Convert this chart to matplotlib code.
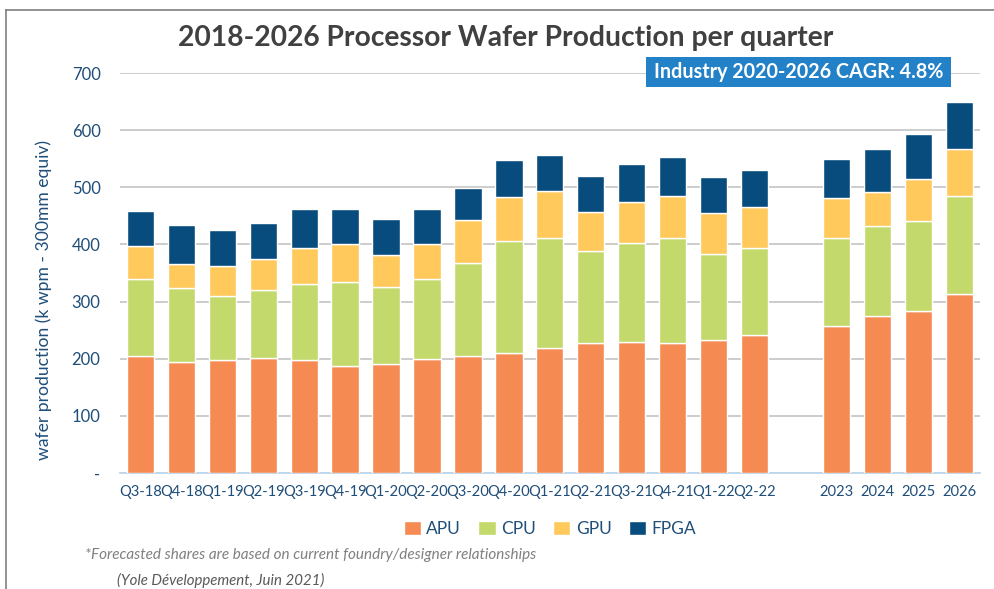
import matplotlib.pyplot as plt
from matplotlib.patches import Rectangle
from matplotlib.lines import Line2D

plt.rcParams['font.family'] = ['Lato', 'DejaVu Sans']

# data (k wpm)
labels = ['Q3-18', 'Q4-18', 'Q1-19', 'Q2-19', 'Q3-19', 'Q4-19', 'Q1-20', 'Q2-20',
          'Q3-20', 'Q4-20', 'Q1-21', 'Q2-21', 'Q3-21', 'Q4-21', 'Q1-22', 'Q2-22',
          '2023', '2024', '2025', '2026']
apu  = [204, 195, 197, 201, 197, 188, 190, 200, 205, 210, 219, 228, 230, 228, 233, 241, 257, 275, 283, 314]
cpu  = [135, 129, 113, 120, 133, 146, 136, 139, 162, 196, 193, 160, 173, 184, 151, 153, 155, 157, 158, 171]
gpu  = [ 58,  42,  53,  54,  64,  67,  56,  62,  75,  77,  82,  69,  71,  73,  71,  71,  69,  60,  73,  82]
fpga = [ 61,  68,  63,  63,  68,  61,  63,  61,  57,  64,  62,  63,  66,  68,  63,  66,  68,  75,  80,  83]
series = ['APU', 'CPU', 'GPU', 'FPGA']
colors = ['#F58B53', '#C4D96C', '#FFC95C', '#074C7D']

text_blue = '#1F4E79'

fig = plt.figure(figsize=(9.95, 5.89), dpi=100)
ax = fig.add_axes([0.1206, 0.197, 0.864, 0.679])

# quarters in slots 0-15, one empty slot, then the years
xs = list(range(16)) + [17, 18, 19, 20]
bottom = [0] * len(xs)
for name, vals, c in zip(series, [apu, cpu, gpu, fpga], colors):
    ax.bar(xs, vals, 0.667, bottom=bottom, color=c, edgecolor='white', linewidth=1, label=name, zorder=3)
    bottom = [b + v for b, v in zip(bottom, vals)]

ax.set_xlim(-0.5, 20.5)
ax.set_ylim(0, 700)
ax.set_yticks(range(0, 701, 100))
ax.set_yticklabels(['-'] + [str(v) for v in range(100, 701, 100)])
ax.set_xticks(xs)
ax.set_xticklabels(labels)
ax.tick_params(axis='both', length=0, colors=text_blue)
ax.tick_params(axis='y', pad=14, labelsize=12)
ax.tick_params(axis='x', pad=9, labelsize=10.6)
ax.grid(axis='y', color='#C8C8C8', linewidth=1.3, zorder=0)
for s in ['top', 'right', 'left']:
    ax.spines[s].set_visible(False)
ax.spines['bottom'].set_color('#BDD7EE')
ax.spines['bottom'].set_linewidth(1.3)
ax.set_ylabel('wafer production (k wpm - 300mm equiv)', color=text_blue, fontsize=12.6)
ax.yaxis.set_label_coords(-0.079, 0.4325)

fig.text(0.508, 0.935, '2018-2026 Processor Wafer Production per quarter', ha='center', va='center',
         fontsize=20.3, fontweight='bold', color='#404040')

# CAGR callout
fig.add_artist(Rectangle((0.6492, 0.8523), 0.3065, 0.0509, transform=fig.transFigure,
                         facecolor='#2381C8', edgecolor='none', zorder=5))
fig.text(0.8025, 0.8778, 'Industry 2020-2026 CAGR: 4.8%', ha='center', va='center', fontsize=14.2,
         fontweight='bold', color='white', zorder=6)

ax.legend(loc='center', bbox_to_anchor=(0.5, -0.14), ncol=4, frameon=False, fontsize=12.5,
          labelcolor=text_blue, handlelength=1.0, handleheight=0.8, handletextpad=0.3, columnspacing=1.0)

fig.text(0.085, 0.057, '*Forecasted shares are based on current foundry/designer relationships',
         fontsize=11, style='italic', color='#808080', va='center')
fig.text(0.118, 0.014, '(Yole Développement, Juin 2021)', fontsize=10.8, style='italic',
         color='#595959', va='center')

# outer frame
fig.add_artist(Line2D([0.006, 0.006], [0, 0.983], color='#7F7F7F', linewidth=1.2))
fig.add_artist(Line2D([0.006, 1.0], [0.983, 0.983], color='#7F7F7F', linewidth=1.2))

fig.savefig('out.png', dpi=100)
